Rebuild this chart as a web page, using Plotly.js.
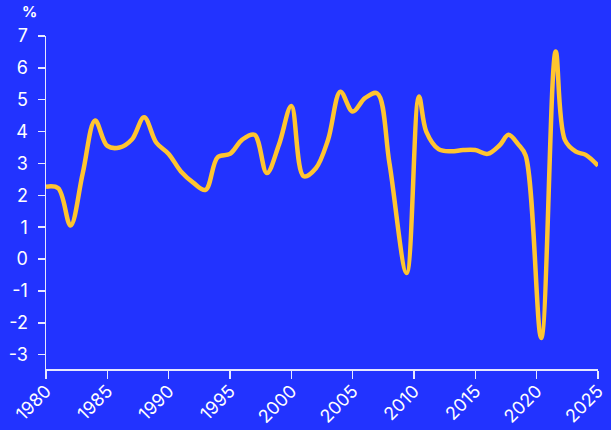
<!DOCTYPE html>
<html>
<head>
<meta charset="utf-8">
<script src="https://cdn.plot.ly/plotly-3.0.1.min.js"></script>
<style>html,body{margin:0;padding:0;background:#2233FF;}#chart{width:611px;height:430px;}</style>
</head>
<body>
<div id="chart"></div>
<script>
var years = [1980, 1981, 1982, 1983, 1984, 1985, 1986, 1987, 1988, 1989,
  1990, 1991, 1992, 1993, 1994, 1995, 1996, 1997, 1998, 1999,
  2000, 2001, 2002, 2003, 2004, 2005, 2006, 2007, 2008, 2009.4,
  2010.4, 2011, 2012, 2013, 2014, 2015, 2016, 2017, 2017.7, 2018.5,
  2019.1, 2020.37, 2021.55, 2022.3, 2023.2, 2024, 2025];
var growth = [2.27, 2.22, 1.05, 2.7, 4.35, 3.55, 3.5, 3.75, 4.45, 3.65,
  3.3, 2.75, 2.4, 2.17, 3.2, 3.3, 3.75, 3.9, 2.7, 3.6,
  4.8, 2.6, 2.85, 3.75, 5.25, 4.63, 5.05, 5.2, 3.0, -0.44,
  5.1, 4.0, 3.45, 3.38, 3.42, 3.42, 3.3, 3.58, 3.9, 3.6,
  3.25, -2.48, 6.51, 3.74, 3.37, 3.27, 2.93];
var xTicks = [1980, 1985, 1990, 1995, 2000, 2005, 2010, 2015, 2020, 2025];
var yTicks = [-3, -2, -1, 0, 1, 2, 3, 4, 5, 6, 7];
var yTickText = ['-3', '-2', '-1', '0', '1', '2', '3', '4', '5', '6', '7'];
var unitLabel = '%';

var axisColor = '#E6E8FF';
var trace = {
  x: years, y: growth, type: 'scatter', mode: 'lines',
  line: {color: '#FFC530', width: 4.5, shape: 'spline', smoothing: 1},
  hoverinfo: 'x+y'
};
var layout = {
  width: 611, height: 430,
  paper_bgcolor: '#2233FF', plot_bgcolor: '#2233FF',
  margin: {l: 46, r: 13, t: 36, b: 61},
  showlegend: false,
  font: {family: 'Inter, Roboto, sans-serif', color: '#FFFFFF', size: 17},
  xaxis: {
    range: [1980, 2025], tickvals: xTicks, ticktext: xTicks.map(String),
    tickangle: -45, showgrid: false, zeroline: false,
    showline: true, linecolor: axisColor, linewidth: 1.5,
    ticks: 'outside', ticklen: 8, tickwidth: 1.5, tickcolor: axisColor,
    tickfont: {size: 18, color: '#FFFFFF'}, ticklabelstandoff: -5
  },
  yaxis: {
    range: [-3.45, 7], tickvals: yTicks, ticktext: yTickText,
    showgrid: false, zeroline: false,
    showline: true, linecolor: axisColor, linewidth: 1.5,
    ticks: 'outside', ticklen: 7, tickwidth: 1.5, tickcolor: axisColor,
    tickfont: {size: 18, color: '#FFFFFF'}, ticklabelstandoff: 6
  },
  annotations: [{
    text: '<b>' + unitLabel + '</b>', xref: 'paper', yref: 'paper',
    x: -0.047, y: 1.075, xanchor: 'left', yanchor: 'middle', showarrow: false,
    font: {size: 15, color: '#FFFFFF'}
  }]
};
Plotly.newPlot('chart', [trace], layout, {displayModeBar: false, staticPlot: true});
</script>
</body>
</html>
